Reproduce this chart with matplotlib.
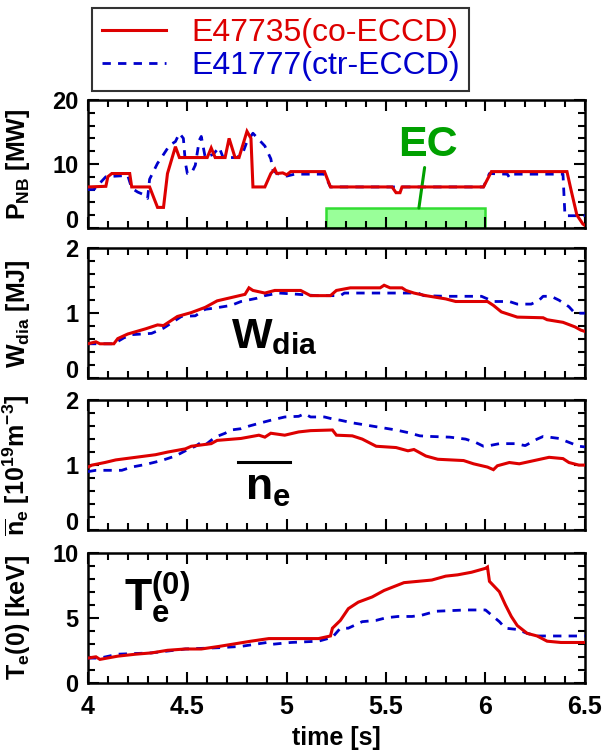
import matplotlib
matplotlib.use("Agg")
import matplotlib.pyplot as plt
from matplotlib.ticker import MultipleLocator
from matplotlib.patches import Rectangle
from matplotlib.lines import Line2D

plt.rcParams['font.family'] = ['Liberation Sans', 'DejaVu Sans']
plt.rcParams['mathtext.fontset'] = 'custom'
plt.rcParams['mathtext.rm'] = 'Liberation Sans'
plt.rcParams['mathtext.bf'] = 'Liberation Sans:bold'
plt.rcParams['mathtext.it'] = 'Liberation Sans:italic'

RED = '#dd0000'
BLUE = '#0000cc'
GREEN = '#00a000'

labels = ['E47735(co-ECCD)', 'E41777(ctr-ECCD)']

# ---- P_NB [MW] ----
pnb_co_t = [4.0, 4.09, 4.10, 4.12, 4.21, 4.22, 4.31, 4.35, 4.38, 4.40, 4.44, 4.46, 4.60, 4.62, 4.64, 4.69,
            4.71, 4.74, 4.76, 4.80, 4.82, 4.83, 4.89, 4.92, 4.94, 4.95, 4.98, 5.00, 5.02, 5.19, 5.22,
            5.53, 5.55, 5.57, 5.58, 5.99, 6.03, 6.41, 6.43, 6.46, 6.49, 6.5]
pnb_co = [6.4, 6.5, 8.0, 8.5, 8.5, 6.4, 6.4, 3.2, 3.2, 8.5, 12.7, 11.0, 11.0, 12.5, 11.0, 11.0,
          14.0, 11.0, 11.0, 15.1, 14.0, 6.4, 6.4, 8.5, 9.2, 8.5, 8.6, 8.3, 8.8, 8.8, 6.4,
          6.4, 5.5, 5.5, 6.4, 6.4, 8.8, 8.8, 6.0, 2.0, 0.6, 0.4]
pnb_ctr_t = [4.0, 4.03, 4.09, 4.20, 4.22, 4.25, 4.28, 4.30, 4.31, 4.35, 4.37, 4.41, 4.44, 4.46, 4.48, 4.49,
             4.50, 4.52, 4.54, 4.56, 4.57, 4.59, 4.63, 4.66, 4.68, 4.70, 4.75, 4.78, 4.80, 4.83, 4.89,
             4.92, 4.93, 4.95, 5.00, 5.04, 5.19, 5.22, 5.99, 6.02, 6.11, 6.12, 6.13, 6.39, 6.40, 6.5]
pnb_ctr = [6.0, 6.0, 8.0, 8.2, 6.2, 5.6, 5.2, 4.6, 7.6, 10.1, 11.0, 12.9, 13.5, 14.8, 14.0, 10.2,
           8.5, 8.5, 9.8, 13.7, 14.3, 11.0, 11.5, 12.6, 11.0, 11.0, 11.0, 11.8, 13.5, 14.8, 12.8,
           10.8, 9.1, 8.5, 8.1, 8.4, 8.4, 6.4, 6.4, 8.5, 8.4, 7.9, 8.4, 8.4, 1.9, 1.9]

ec_start, ec_end, ec_height = 5.2, 6.0, 3.1

# ---- W_dia [MJ] ----
w_co_t = [4.0, 4.04, 4.06, 4.13, 4.15, 4.20, 4.29, 4.35, 4.38, 4.45, 4.52, 4.59, 4.65, 4.72, 4.79, 4.81,
          4.83, 4.89, 4.94, 5.07, 5.12, 5.22, 5.25, 5.32, 5.47, 5.49, 5.52, 5.58, 5.60, 5.64, 5.70,
          5.80, 5.85, 6.01, 6.04, 6.08, 6.12, 6.16, 6.29, 6.31, 6.39, 6.45, 6.48, 6.5]
w_co = [0.53, 0.56, 0.53, 0.53, 0.61, 0.68, 0.76, 0.82, 0.81, 0.95, 1.01, 1.09, 1.19, 1.24, 1.29, 1.39,
        1.35, 1.31, 1.35, 1.35, 1.27, 1.27, 1.35, 1.39, 1.39, 1.43, 1.39, 1.39, 1.35, 1.31, 1.27,
        1.22, 1.18, 1.18, 1.12, 1.02, 0.98, 0.94, 0.93, 0.90, 0.86, 0.79, 0.74, 0.72]
w_ctr_t = [4.0, 4.13, 4.18, 4.22, 4.32, 4.38, 4.47, 4.54, 4.59, 4.64, 4.72, 4.77, 4.85, 4.89, 4.96, 5.06,
           5.15, 5.27, 5.29, 5.66, 5.69, 5.80, 5.98, 6.04, 6.12, 6.16, 6.23, 6.27, 6.29, 6.33, 6.37,
           6.42, 6.45, 6.5]
w_ctr = [0.53, 0.53, 0.62, 0.67, 0.69, 0.77, 0.95, 0.96, 1.06, 1.08, 1.12, 1.18, 1.23, 1.27, 1.31, 1.29,
         1.27, 1.27, 1.31, 1.31, 1.27, 1.26, 1.26, 1.18, 1.18, 1.14, 1.14, 1.20, 1.26, 1.26, 1.20,
         1.10, 1.00, 1.00]

# ---- line-averaged density [1e19 m^-3] ----
ne_co_t = [4.0, 4.02, 4.085, 4.14, 4.24, 4.34, 4.40, 4.49, 4.52, 4.62, 4.65, 4.77, 4.86, 4.89, 4.92, 4.99,
           5.06, 5.12, 5.23, 5.25, 5.33, 5.38, 5.45, 5.55, 5.61, 5.64, 5.70, 5.76, 5.89, 5.94, 6.01,
           6.04, 6.06, 6.12, 6.17, 6.20, 6.26, 6.32, 6.39, 6.42, 6.47, 6.5]
ne_co = [0.97, 1.00, 1.04, 1.08, 1.12, 1.16, 1.20, 1.25, 1.29, 1.33, 1.38, 1.41, 1.46, 1.43, 1.49, 1.46,
         1.51, 1.53, 1.54, 1.46, 1.45, 1.40, 1.29, 1.27, 1.22, 1.24, 1.14, 1.09, 1.07, 1.02, 0.97,
         0.93, 0.99, 1.04, 1.02, 1.04, 1.08, 1.12, 1.10, 1.04, 1.00, 1.00]
ne_ctr_t = [4.0, 4.04, 4.17, 4.22, 4.29, 4.37, 4.44, 4.49, 4.54, 4.57, 4.59, 4.64, 4.69, 4.72, 4.77, 4.81,
            4.87, 4.92, 4.99, 5.06, 5.09, 5.12, 5.19, 5.23, 5.27, 5.33, 5.43, 5.55, 5.61, 5.67, 5.73,
            5.82, 5.90, 5.95, 5.99, 6.02, 6.07, 6.15, 6.20, 6.26, 6.29, 6.32, 6.37, 6.42, 6.47, 6.5]
ne_ctr = [0.90, 0.92, 0.92, 0.97, 1.01, 1.07, 1.14, 1.22, 1.29, 1.35, 1.31, 1.43, 1.49, 1.54, 1.56, 1.60,
          1.65, 1.69, 1.74, 1.75, 1.79, 1.74, 1.74, 1.71, 1.69, 1.65, 1.60, 1.54, 1.50, 1.45, 1.44,
          1.43, 1.40, 1.35, 1.29, 1.30, 1.33, 1.33, 1.30, 1.40, 1.44, 1.43, 1.41, 1.35, 1.29, 1.28]

# ---- Te(0) [keV] ----
te_co_t = [4.0, 4.04, 4.06, 4.15, 4.24, 4.32, 4.40, 4.49, 4.57, 4.66, 4.74, 4.82, 4.91, 4.99, 5.07, 5.16,
           5.22, 5.23, 5.27, 5.31, 5.36, 5.43, 5.49, 5.54, 5.59, 5.66, 5.73, 5.80, 5.86, 5.93, 6.00,
           6.01, 6.02, 6.07, 6.10, 6.13, 6.16, 6.21, 6.26, 6.31, 6.38, 6.5]
te_co = [1.9, 2.0, 1.8, 2.05, 2.2, 2.3, 2.5, 2.6, 2.6, 2.8, 3.0, 3.2, 3.4, 3.4, 3.4, 3.4,
         3.6, 4.2, 4.8, 5.7, 6.2, 6.6, 7.1, 7.4, 7.7, 7.8, 7.9, 8.2, 8.3, 8.5, 8.8,
         8.9, 7.8, 7.0, 6.0, 5.1, 4.4, 3.8, 3.6, 3.2, 3.1, 3.1]
te_ctr_t = [4.0, 4.06, 4.15, 4.32, 4.49, 4.66, 4.77, 4.90, 4.92, 5.02, 5.16, 5.23, 5.27, 5.31, 5.38, 5.45,
            5.50, 5.56, 5.63, 5.68, 5.75, 5.90, 6.00, 6.07, 6.10, 6.16, 6.21, 6.26, 6.33, 6.5]
te_ctr = [1.9, 1.9, 2.2, 2.3, 2.6, 2.7, 2.8, 3.1, 2.95, 3.1, 3.2, 3.5, 4.2, 4.2, 4.7, 4.8,
          5.0, 5.1, 5.1, 5.2, 5.5, 5.6, 5.6, 4.7, 4.2, 4.1, 3.8, 3.6, 3.6, 3.6]

x_ticks = [4, 4.5, 5, 5.5, 6, 6.5]
x_ticklabels = ['4', '4.5', '5', '5.5', '6', '6.5']

fig = plt.figure(figsize=(6.03, 7.52), dpi=100)

left, width = 0.1459, 0.824
rows = [(0.697, 0.170), (0.497, 0.173), (0.295, 0.173), (0.092, 0.173)]
axes = [fig.add_axes([left, b, width, h]) for b, h in rows]

co_kw = dict(color=RED, lw=2.2, solid_joinstyle='miter')
ctr_kw = dict(color=BLUE, lw=2.0, dashes=(3.0, 2.6))

series = [
    (pnb_co_t, pnb_co, pnb_ctr_t, pnb_ctr, (0, 20), 2, [0, 10, 20], ['0', '10', '20'], r'$\mathbf{P_{NB}}$ [MW]'),
    (w_co_t, w_co, w_ctr_t, w_ctr, (0, 2), 0.2, [0, 1, 2], ['0', '1', '2'], r'$\mathbf{W_{dia}}$ [MJ]'),
    (ne_co_t, ne_co, ne_ctr_t, ne_ctr, (0, 2), 0.2, [0, 1, 2], ['0', '1', '2'],
     r'$\mathbf{\overline{n}_e}$ [10$\mathbf{^{19}}$m$\mathbf{^{-3}}$]'),
    (te_co_t, te_co, te_ctr_t, te_ctr, (0, 10), 1, [0, 5, 10], ['0', '5', '10'], r'$\mathbf{T_e}$(0) [keV]'),
]

for i, (ax, (tc, yc, tb, yb, ylim, mnr, yt, ytl, ylab)) in enumerate(zip(axes, series)):
    if i == 0:
        ax.add_patch(Rectangle((ec_start, 0), ec_end - ec_start, ec_height,
                               facecolor='#99ff99', edgecolor='#33dd33', lw=1.8, zorder=1))
    ax.plot(tb, yb, **ctr_kw, zorder=3)
    ax.plot(tc, yc, **co_kw, zorder=4)
    ax.set_xlim(4, 6.5)
    ax.set_ylim(*ylim)
    ax.xaxis.set_major_locator(MultipleLocator(0.5))
    ax.xaxis.set_minor_locator(MultipleLocator(0.1))
    ax.set_yticks(yt)
    ax.yaxis.set_minor_locator(MultipleLocator(mnr))
    ax.set_yticklabels(ytl, fontweight='bold')
    ax.tick_params(which='both', direction='in', top=True, right=True, width=1.5)
    ax.tick_params(which='major', length=8, labelsize=17, pad=7)
    ax.tick_params(which='minor', length=5)
    if i < 3:
        ax.get_yticklabels()[0].set_verticalalignment('baseline')
    for s in ax.spines.values():
        s.set_linewidth(1.8)
    ax.set_ylabel(ylab, fontsize=18, fontweight='bold')
    ax.yaxis.set_label_coords(-0.112, 0.5)
    if i < 3:
        ax.set_xticklabels([])
    else:
        ax.set_xticks(x_ticks)
        ax.set_xticklabels(x_ticklabels, fontsize=18, fontweight='bold')
        ax.tick_params(axis='x', which='major', pad=9)
        ax.set_xlabel('time [s]', fontsize=18, fontweight='bold', labelpad=5)

# annotations
ax1 = axes[0]
ax1.annotate('EC', xy=(5.665, ec_height), xytext=(5.71, 13.0), color=GREEN,
             fontsize=31, fontweight='bold', ha='center', va='center',
             arrowprops=dict(arrowstyle='-', color=GREEN, lw=2.2, shrinkA=0, shrinkB=0))

axes[1].text(4.72, 0.46, r'$\mathbf{W_{dia}}$', fontsize=31, ha='left', va='baseline')
ax3 = axes[2]
ax3.text(4.79, 0.46, r'$\mathbf{n_e}$', fontsize=32, ha='left', va='baseline')
ax3.add_line(Line2D([0.302, 0.406], [0.523, 0.523], transform=ax3.transAxes, color='black', lw=2.2))
axes[3].text(4.18, 5.5, r'$\mathbf{T_e^{(0)}}$', fontsize=32, ha='left', va='baseline')

# legend
handles = [Line2D([], [], **co_kw), Line2D([], [], **ctr_kw)]
leg = fig.legend(handles, labels, loc='upper left', bbox_to_anchor=(0.153, 0.989),
                 fontsize=23, frameon=True, fancybox=False, edgecolor='black',
                 handlelength=2.0, handletextpad=0.8, borderpad=0.3, labelspacing=0.1,
                 borderaxespad=0.0)
leg.get_frame().set_linewidth(1.5)
for txt, c in zip(leg.get_texts(), [RED, BLUE]):
    txt.set_color(c)

fig.savefig('out.png', dpi=100)
